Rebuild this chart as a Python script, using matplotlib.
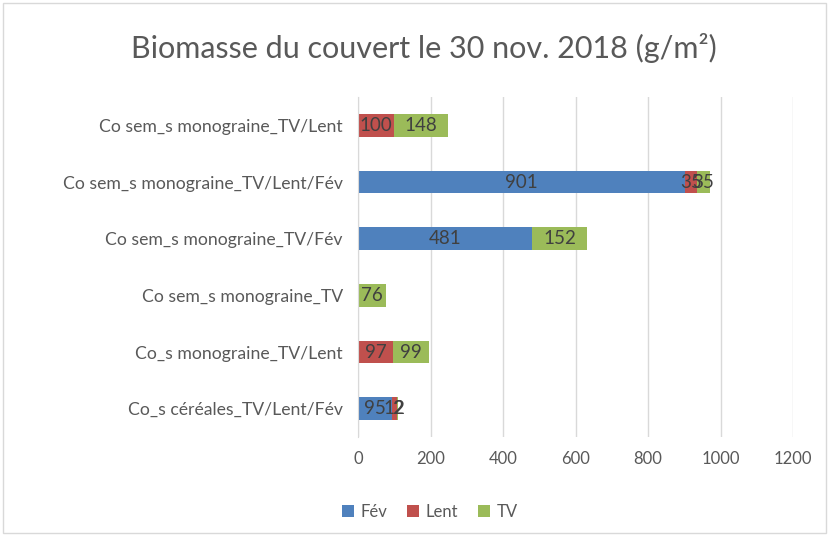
import matplotlib
matplotlib.use("Agg")
import matplotlib.pyplot as plt
from matplotlib.patches import Rectangle
import numpy as np

categories = [
    "Co sem_s monograine_TV/Lent",
    "Co sem_s monograine_TV/Lent/Fév",
    "Co sem_s monograine_TV/Fév",
    "Co sem_s monograine_TV",
    "Co_s monograine_TV/Lent",
    "Co_s céréales_TV/Lent/Fév",
]
fev = [0, 901, 481, 0, 0, 95]
lent = [100, 35, 0, 0, 97, 12]
tv = [148, 35, 152, 76, 99, 2]
series_names = ["Fév", "Lent", "TV"]
colors = ["#4F81BD", "#C0504D", "#9BBB59"]
xticks = [0, 200, 400, 600, 800, 1000, 1200]

plt.rcParams['font.family'] = ['Lato', 'DejaVu Sans']

fig = plt.figure(figsize=(8.29, 5.37), dpi=100)
ax = fig.add_axes([358/829, 1-437/537, (793-358)/829, (437-97)/537])

y = np.arange(len(categories))
left = np.zeros(len(categories))
for vals, name, c in zip([fev, lent, tv], series_names, colors):
    vals = np.array(vals, dtype=float)
    bars = ax.barh(y, vals, left=left, height=0.4, color=c, label=name, zorder=3)
    for b, v in zip(bars, vals):
        if v > 0:
            ax.text(b.get_x() + b.get_width()/2, b.get_y() + b.get_height()/2, f"{int(v)}",
                    ha='center', va='center', fontsize=13.5, color='#404040', zorder=4)
    left += vals

ax.set_xlim(0, 1200)
ax.set_ylim(len(categories)-0.5, -0.5)
ax.set_xticks(xticks)
ax.set_xticklabels([str(t) for t in xticks])
ax.set_yticks(y)
ax.set_yticklabels(categories, fontsize=12.7)
ax.tick_params(axis='both', length=0, colors='#595959')
ax.tick_params(axis='x', labelsize=12, pad=10)
ax.tick_params(axis='y', pad=11)
ax.grid(axis='x', color='#D9D9D9', linewidth=1, zorder=0)
for s in ['top', 'right', 'bottom']:
    ax.spines[s].set_visible(False)
ax.spines['left'].set_color('#D9D9D9')
ax.spines['left'].set_zorder(5)

fig.text(424/829, 1-48/537, "Biomasse du couvert le 30 nov. 2018 (g/m²)", ha='center', va='center',
         fontsize=22, color='#595959')

leg = fig.legend(loc='center', bbox_to_anchor=(430/829, 1-512/537), ncol=3, frameon=False,
                 fontsize=12, handlelength=0.7, handleheight=0.7, handletextpad=0.4, columnspacing=1.2)
for t in leg.get_texts():
    t.set_color('#595959')

fig.patches.append(Rectangle((3/829, 4/537), 823/829, 530/537, transform=fig.transFigure,
                             fill=False, edgecolor='#D9D9D9', linewidth=1))

fig.savefig("out.png", dpi=100)
